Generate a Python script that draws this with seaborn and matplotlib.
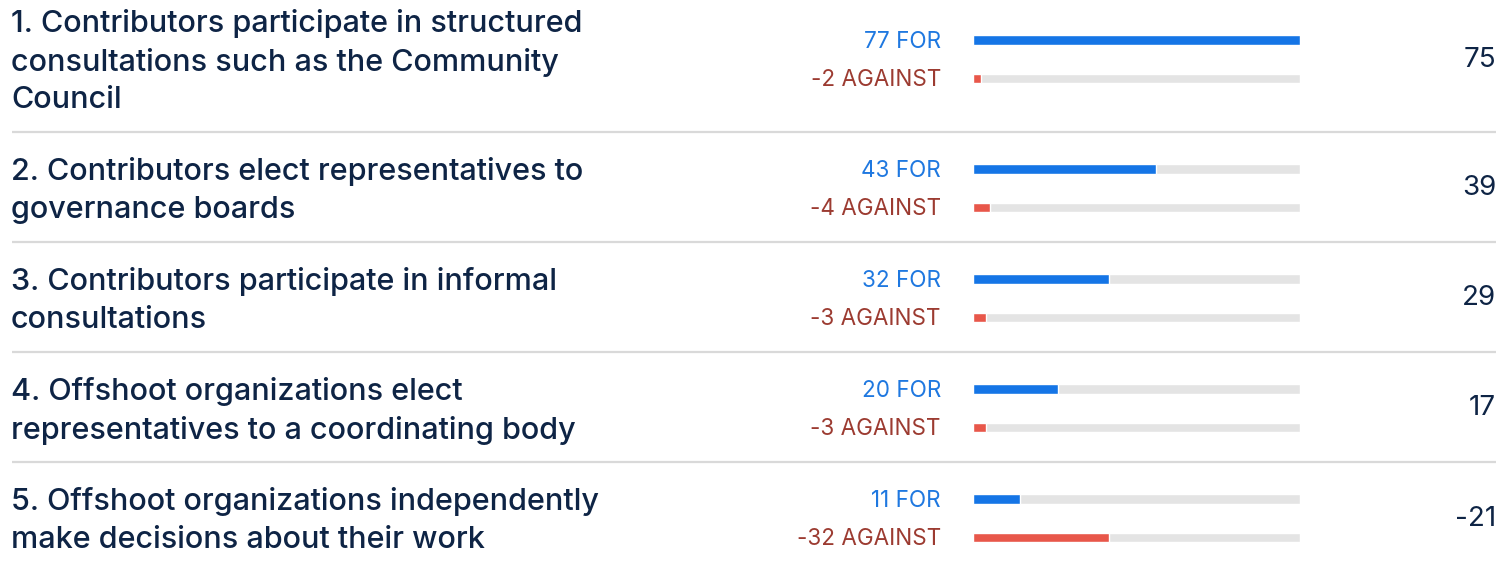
import matplotlib
matplotlib.use("Agg")
import matplotlib.pyplot as plt
import seaborn as sns
import pandas as pd

# ---- data ----
categories = [
    "1. Contributors participate in structured\nconsultations such as the Community\nCouncil",
    "2. Contributors elect representatives to\ngovernance boards",
    "3. Contributors participate in informal\nconsultations",
    "4. Offshoot organizations elect\nrepresentatives to a coordinating body",
    "5. Offshoot organizations independently\nmake decisions about their work",
]
for_votes = [77, 43, 32, 20, 11]
against_votes = [-2, -4, -3, -3, -32]
net_scores = [75, 39, 29, 17, -21]
series = ["FOR", "AGAINST"]

# ---- styling / layout (pixels) ----
W, H = 1512, 568
FONT = ["Inter", "DejaVu Sans"]
NAVY = "#0e2445"
BLUE_BAR = "#1575e6"
BLUE_TXT = "#1f78e0"
RED_BAR = "#e8574a"
RED_TXT = "#9c3b31"
TRACK = "#e4e4e4"
SEP = "#d9d9d9"

blue_y = [40, 169, 279, 389, 499]      # row anchor (FOR bar centre)
row_gap = 38.5                          # FOR -> AGAINST spacing
text_y = [24, 172, 282, 392, 502]       # first text line centre
line_h = 38.2
net_y = [60, 188, 298, 408, 519]
sep_y = [132, 242, 352, 462]
bar_x0, bar_x1 = 973, 1300

sns.set_theme(style="white")
plt.rcParams["font.family"] = FONT

fig = plt.figure(figsize=(W / 100, H / 100), dpi=100)
bg = fig.add_axes([0, 0, 1, 1])
bg.set_xlim(0, W)
bg.set_ylim(H, 0)
bg.axis("off")

bg.hlines(sep_y, 12, 1496, color=SEP, lw=1.6)

vmax = max(max(for_votes), max(abs(v) for v in against_votes))

for i, cat in enumerate(categories):
    for j, line in enumerate(cat.split("\n")):
        bg.text(11, text_y[i] + j * line_h, line, fontsize=22, color=NAVY,
                ha="left", va="center", fontweight="medium")
    bg.text(941, blue_y[i] + 2, f"{for_votes[i]} FOR", fontsize=16.2, color=BLUE_TXT,
            ha="right", va="center")
    bg.text(941, blue_y[i] + row_gap + 1.5, f"{against_votes[i]} AGAINST", fontsize=16.2,
            color=RED_TXT, ha="right", va="center")
    bg.text(1496, net_y[i], f"{net_scores[i]}", fontsize=20, color=NAVY,
            ha="right", va="center")

    top = blue_y[i] - row_gap / 2
    ax = fig.add_axes([bar_x0 / W, 1 - (top + 2 * row_gap) / H,
                       (bar_x1 - bar_x0) / W, 2 * row_gap / H])
    track = pd.DataFrame({"series": series, "votes": [vmax, vmax]})
    sns.barplot(data=track, x="votes", y="series", color=TRACK, width=0.24,
                ax=ax, saturation=1)
    df = pd.DataFrame({"series": series,
                       "votes": [for_votes[i], abs(against_votes[i])]})
    sns.barplot(data=df, x="votes", y="series", hue="series",
                palette={"FOR": BLUE_BAR, "AGAINST": RED_BAR}, width=0.24,
                ax=ax, saturation=1, legend=False)
    ax.set_xlim(0, vmax)
    ax.set_ylim(1.5, -0.5)
    ax.axis("off")

fig.savefig("out.png", dpi=100)
